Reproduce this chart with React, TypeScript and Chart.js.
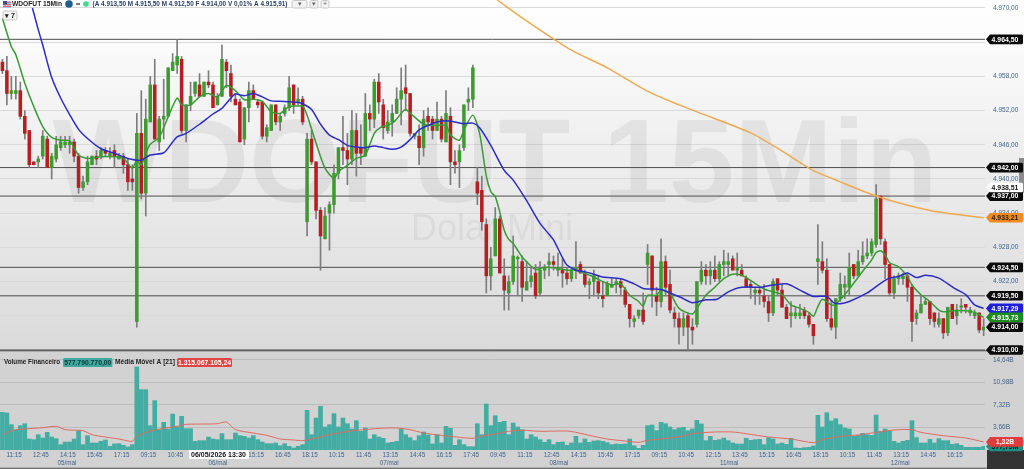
import React, { useEffect, useRef } from "react";
import { Chart, registerables } from "chart.js";

Chart.register(...registerables);

const opens = [
4960.5,4959,4955,4955,4955.5,4951,4948.5,4943,4943,4944,
4947,4942,4943.5,4945.5,4946,4946,4946.5,4944,4938.5,4939.5,
4942.5,4944,4944,4945,4944,4945,4943.5,4944,4942.5,4940,
4915,4948,4937.5,4950,4956.5,4946.5,4950.5,4951,4959,4960,
4961,4948.5,4953,4955,4956.5,4954.5,4957,4956.5,4953,4954.5,
4960.5,4958.5,4954,4953.5,4947,4952.5,4955.5,4953.5,4953.5,4947.5,
4948.5,4953,4950,4951.5,4952.5,4956.5,4953.5,4954,4932.5,4947,
4943,4934.5,4929.5,4934,4935.5,4941,4945.5,4945,4943.5,4948.5,
4945.5,4944,4951.5,4950.5,4957,4953,4948.5,4950,4951.5,4954,
4956,4955,4947.5,4947.5,4945.5,4951,4950.5,4948.5,4950.5,4946.5,
4951,4943,4943,4945.5,4953.5,4954,4939.5,4938,4932,4923,
4926.5,4933,4923,4920,4922,4926,4925.5,4920.5,4922,4923.5,
4920,4924,4925,4925.5,4924,4924,4923.5,4922.5,4924,4925,
4923.5,4921.5,4922,4922,4919.5,4919.5,4921,4921.5,4922,4920.5,
4918,4915,4916,4917,4925,4926.5,4919.5,4918.5,4925.5,4921.5,
4916.5,4915.5,4914,4916,4914,4914.5,4922,4924,4923,4924,
4922.5,4925,4925,4926,4924,4924,4922.5,4921.5,4920,4920.5,
4919.5,4918.5,4916.5,4922.5,4920.5,4917.5,4916,4916,4916,4917,
4916,4914.5,4925.5,4925.5,4924,4915.5,4914,4919,4921,4921,
4925,4923,4925.5,4926.5,4927,4928.5,4937,4929,4925,4920,
4922.5,4922.5,4923,4921,4915.5,4916.5,4918,4918.5,4916.5,4914.5,
4915.5,4913,4918,4916,4917.5,4918,4916.5,4916,4916.5,4913.5];

const highs = [
4961,4961.5,4958,4958,4957,4952,4948.5,4943,4944,4948.5,
4947.5,4944.5,4947.5,4947.5,4947.5,4947.5,4947,4944.5,4940.5,4944,
4944,4945,4945.5,4945.5,4945.5,4946,4944.5,4944.5,4943.5,4942.5,
4951.5,4955.5,4954,4958,4961,4951,4957.5,4959.5,4962,4964.5,
4961.5,4953,4957,4957,4958.5,4957,4959,4957,4955,4963.5,
4961,4960,4955,4954,4952.5,4957,4956.5,4954,4953.5,4949.5,
4953,4953,4951.5,4953,4958,4956.5,4956,4954.5,4948,4948.5,
4943,4935,4935,4936,4942.5,4945.5,4951,4948,4952,4951.5,
4949.5,4955,4953,4957.5,4958.5,4954,4952,4953,4956,4959.5,
4960,4955,4948,4949.5,4952,4952.5,4951,4953.5,4951,4955.5,
4952.5,4945,4946,4953,4956,4960,4942,4940.5,4933,4928,
4935,4933.5,4926,4923,4930,4926.5,4926.5,4925.5,4924.5,4925,
4925.5,4925,4927,4926.5,4927,4926,4924.5,4924.5,4929,4925.5,
4924,4922.5,4924,4923,4922,4922,4922.5,4922.5,4922.5,4921,
4918,4916,4917,4920,4928.5,4926.5,4921,4929.5,4926.5,4924,
4917.5,4916.5,4916.5,4916.5,4915.5,4922,4925.5,4925,4925.5,4926.5,
4925.5,4927.5,4927,4926.5,4927,4925,4923,4922,4921,4921,
4921.5,4919.5,4922.5,4922.5,4921.5,4918,4918.5,4917.5,4918,4917.5,
4916.5,4914.5,4932,4929,4926,4918.5,4919,4923.5,4923,4927,
4925,4927.5,4929,4929.5,4929.5,4939,4937,4929.5,4925,4923,
4923.5,4923.5,4923.5,4921.5,4917,4919.5,4919,4918.5,4916.5,4916.5,
4915.5,4917.5,4918,4918,4919,4918,4917.5,4917,4916.5,4915.5];

const lows = [
4958.5,4953,4954,4954,4950.5,4947,4942,4942.5,4942,4943.5,
4942,4940,4943,4945,4945.5,4944.5,4943,4937.5,4938,4939,
4942.5,4942.5,4943.5,4944,4943.5,4942,4943.5,4941,4938,4938,
4914,4936.5,4933.5,4950,4947,4945,4947,4951,4959,4958.5,
4948,4946.5,4952,4954.5,4954.5,4954.5,4956,4952.5,4953,4954.5,
4956,4953.5,4953,4946.5,4946,4950,4954,4952.5,4947,4946.5,
4948.5,4949.5,4948.5,4951,4952,4951.5,4953,4949.5,4930,4942.5,
4933,4924,4929.5,4927.5,4934,4940,4942.5,4939,4942.5,4940.5,
4942.5,4944,4948.5,4949,4951.5,4947,4948,4947.5,4951.5,4949.5,
4952,4947.5,4947,4942.5,4944,4948.5,4947,4948.5,4946.5,4946.5,
4939,4941,4938.5,4945,4952,4952.5,4935.5,4931,4920,4920.5,
4926.5,4923.5,4917,4917,4921.5,4919.5,4918.5,4920.5,4921,4919,
4919.5,4922.5,4923,4924,4923,4921,4921.5,4922,4922.5,4923.5,
4921,4919,4919.5,4919,4917.5,4919.5,4921,4920,4919.5,4917.5,
4914,4914,4915.5,4914.5,4921.5,4917.5,4916,4917.5,4919.5,4916.5,
4914,4911,4912.5,4910,4911,4914,4921.5,4921.5,4921.5,4922,
4922,4923,4923,4924,4923,4923,4921,4919,4918,4918,
4917.5,4915,4916,4919.5,4917.5,4915.5,4914,4915.5,4915.5,4915.5,
4914,4911,4921.5,4923.5,4915,4913.5,4912,4918.5,4919,4919.5,
4922.5,4923,4925,4926,4926.5,4928,4928.5,4922.5,4919.5,4919,
4921.5,4921.5,4918.5,4911.5,4914.5,4916.5,4918,4914.5,4914,4914,
4912,4912.5,4915.5,4914.5,4916.5,4916.5,4916,4915.5,4913,4912.5];

const closes = [
4959,4955,4955.5,4955.5,4951,4948,4942.5,4942.5,4943.5,4947.5,
4942,4944,4946,4946.5,4946.5,4946.5,4944,4938.5,4939.5,4943,
4944,4943.5,4945,4944.5,4944.5,4944,4944,4942.5,4939.5,4939.5,
4948,4937.5,4950.5,4956.5,4947,4950.5,4951,4959.5,4960.5,4961.5,
4948.5,4953,4954.5,4957,4954.5,4957,4956.5,4952.5,4954.5,4961,
4959,4954.5,4953,4946.5,4952.5,4955.5,4954,4953,4947.5,4949,
4953,4950,4951,4952.5,4956,4953,4954,4950,4947,4943,
4934.5,4930,4933.5,4935.5,4941,4945.5,4945,4943.5,4948.5,4944.5,
4944.5,4951.5,4950.5,4957,4953.5,4949,4950,4951.5,4954,4955.5,
4955,4948,4948,4945.5,4950.5,4950,4948.5,4950.5,4947,4951.5,
4943,4942.5,4945,4953,4954,4959.5,4937.5,4932.5,4923,4926,
4933,4923.5,4920.5,4922,4926.5,4926,4921,4922,4923,4919.5,
4924,4924.5,4925.5,4925,4924.5,4923.5,4922.5,4924,4924.5,4923.5,
4921.5,4922,4923,4920,4919,4921.5,4921.5,4922,4921,4918,
4915.5,4915.5,4917,4915,4927,4920.5,4918.5,4925.5,4921,4917,
4915.5,4914,4915.5,4914,4913.5,4922,4924,4923,4924,4922.5,
4925,4925.5,4925.5,4924,4924.5,4923,4921,4921,4920.5,4920,
4918.5,4916.5,4922,4920.5,4917.5,4915.5,4916.5,4916.5,4916.5,4916,
4914.5,4912.5,4926,4924,4915.5,4914,4919,4921.5,4921.5,4924.5,
4923,4925.5,4926.5,4927,4929,4936.5,4929.5,4925,4920,4922.5,
4923,4923,4921,4915,4916.5,4918,4918.5,4915.5,4915,4915.5,
4913,4917.5,4915.5,4917,4917.5,4917.5,4917,4916.5,4913.5,4914];

const volumes = [
6.12,6.02,4.12,3.2,3.96,4.28,1.79,1.68,2.49,1.95,2.87,2.11,1.84,0.87,1.3,1.3,1.79,3.14,0.87,2.33,
1.14,1.14,1.41,1.63,0.6,0.98,1.03,0.76,0.49,0.87,
13.5,9.81,9.81,3.96,8.02,3.31,4.5,3.41,5.85,3.74,5.47,3.47,3.47,1.41,1.52,1.52,2.11,1.79,1.68,2.66,
1.68,1.68,2.76,2.33,2.22,1.95,2.33,1.68,1.3,1.03,1.03,1.14,0.7,1.03,0.6,0.33,0.6,0.87,
6.45,2.49,5.2,7.1,3.74,4.12,5.91,3.74,
5.2,4.28,3.41,4.77,3.04,3.58,1.79,2.49,2.11,1.9,1.14,1.25,1.41,3.41,2.49,2.01,1.52,2.33,2.93,2.44,
0.98,2.49,1.14,3.85,3.52,0.76,1.68,0.87,0.54,0.54,
4.28,2.49,7.48,3.96,5.58,4.5,4.66,2.49,4.39,3.74,3.31,1.79,2.49,2.11,1.68,1.25,1.68,0.87,1.25,1.3,
0.76,1.14,2.22,1.14,1.79,1.25,1.46,1.52,1.41,1.19,0.87,0.98,0.92,0.98,1.79,0.7,0.27,0.76,
3.96,4.07,3.14,4.5,4.28,3.74,3.31,3.58,
3.69,3.14,3.41,4.82,4.23,1.52,2.22,1.57,1.68,1.95,1.52,1.14,0.98,0.98,1.9,1.57,1.68,1.73,0.87,2.01,
1.79,0.98,1.14,0.92,1.9,0.33,0.27,0.38,0.43,0.65,
5.64,3.74,6.07,4.72,5.09,4.12,3.58,3.41,2.22,2.38,2.71,2.49,2.38,5.69,3.04,3.41,3.04,1.41,1.14,1.41,
1.57,4.77,2.01,1.14,1.14,1.73,1.14,1.84,1.52,1.52,0.92,1.03,0.76,0.43,0.43,0.43,0.43,0.58];

const greenBars = [0,2,3,5,7,9,11,13,15,17,19,22,25,27,29,30,31,32,33,35,37,39,40,42,44,46,48,50,52,54,56,58,60,62,64,66,67,68,70,72,74,75,77,79,81,83,84.5,86,87.5,89,90,91.5,94,96,99,100,102,103,105,106.5,108,109,110,111,112,113,114,115,116,118,119,121,124,126,128,130,132,134,136,138,140,142,143,144,146,147,149,151,154,155,157,159,161,163,165,167,170,172,174,176,178,180,181,182,183,185,186,188,190,192,194,195,196,197,198,200,202,203,205,207,209,210,212,215,217,219];
const greenValues = [4968.2,4963.2,4961.8,4956.8,4952.7,4949.2,4947.3,4946.8,4946.7,4944.2,4943.6,4943.9,4943.9,4943.6,4941.9,4943.3,4942.5,4944.5,4946.1,4947.3,4950.9,4954.2,4953,4953,4954.4,4955,4954.4,4956.4,4955.5,4953.9,4954,4953.6,4951.8,4951.5,4952.7,4952.8,4952.8,4951.2,4946.3,4941.9,4940.1,4941.3,4942.4,4943.6,4944.2,4948,4949.1,4949.4,4950.1,4951.5,4952.2,4951.2,4949.6,4949.4,4949.4,4947.7,4946.8,4948.6,4951.2,4948,4940.5,4937.8,4936.9,4934.2,4931,4929.4,4928.7,4927.5,4926.3,4924.7,4924.1,4924.5,4924.3,4924,4924,4923.4,4922.8,4922,4921.4,4921.6,4919.6,4918.5,4917.7,4919.6,4919.6,4920.5,4919.9,4917.3,4916.3,4917.3,4919.6,4921,4922.5,4923.3,4923.1,4922.2,4920.7,4920.2,4919.7,4917.9,4917.3,4916.6,4915.9,4917.6,4918.9,4917.9,4918.1,4919.7,4921.7,4923.8,4925.8,4927.1,4927.4,4926.7,4925.3,4924.6,4922.9,4921.4,4919.7,4918.5,4917,4916.7,4916.9,4916.9,4916.6,4915.73];

const blueBars = [6.7,8,9,11,13,15,17,19,22,25,28,31,33,36,38,39,41,44,47,49,51,52,54,56,58,60,63,66,67,69,71,73,75,77,79,81,83,85,87,89,91,93,95,97,99,101,103,105,106.5,109,112,114,117,120,122,123,125,126,128,130,132,134,138,141,143,147,149,151.5,154,157,159.5,162,165,169,172,175,178,181,184,185.5,187,189,193,196,198,200,202,204,206,209,212.5,215,217,219];
const blueValues = [4970,4966.2,4963.5,4957.8,4954.2,4951.3,4948.7,4947.1,4945.3,4944.5,4943.6,4943.3,4944.2,4944.6,4946.5,4947.4,4948,4949.6,4951.4,4952.4,4954.2,4954.9,4954.6,4955,4954.4,4953.7,4953.6,4953.4,4953.2,4952.2,4949.6,4947.7,4946.9,4945.9,4945.6,4945.5,4945.8,4945.5,4945.2,4945.6,4946.9,4948.6,4949.4,4950,4950.2,4950,4949.7,4949.8,4949,4945.9,4941.5,4939.8,4936.2,4932.2,4930.3,4929.3,4926.2,4924.9,4924,4923.7,4923.3,4922.8,4922.5,4921.6,4920.8,4920.6,4920,4919.2,4918.3,4918.8,4918.9,4920.2,4921,4921,4921.4,4921.6,4920.5,4919.4,4919.4,4918.3,4918.1,4918.5,4920,4921.7,4922.6,4922.9,4923.5,4922.7,4923.1,4922.6,4920.8,4919.7,4917.9,4917.29];

const orangeBars = [110.4,118,127,135,143.7,151,155.6,167,173.6,180.7,187,195,202,209,219];
const orangeValues = [4971.4,4967.2,4962.6,4959.5,4955.5,4953,4951.6,4948.1,4945.1,4941.6,4939.5,4937,4935.4,4934.2,4933.21];

const volMaBars = [0,2,3,6,9,12,14,18,20,23,26,29,30,32,35,39,41,46,48,50,52,56,59,62,65,67,70,74,75,78,81,84,88,91,94,98,101.4,105,106.5,110,113,116,120,126,128,132,135,139,142,144,147,151,154,159,163,166,171,176,181,183,187,191,194,199,203,205,210,215,219];
const volMaValues = [2.49,3.14,3.31,3.47,3.63,3.85,3.31,3.14,2.49,2.11,1.79,1.41,2.22,2.87,3.41,3.85,4.17,4.23,4.28,4.55,3.31,2.76,2.38,1.79,1.63,1.52,1.95,2.66,2.76,3.14,3.31,3.52,3.58,3.31,2.76,2.38,2.11,1.9,2.22,2.6,3.04,3.2,3.04,3.09,2.87,2.22,1.79,1.46,1.25,1.57,1.79,2.15,2.66,2.93,2.93,2.66,2.11,1.79,1.19,1.68,2.22,2.44,2.76,3.25,3.31,2.87,2.33,1.95,1.32];

const levels = [4964.5, 4942, 4937, 4924.5, 4919.5, 4910];
const priceTicks = [4970, 4964, 4958, 4952, 4946, 4940, 4934, 4928, 4922, 4916, 4910];
const volumeTicks = [14.64, 10.98, 7.32, 3.66];
const timeLabels = ["11:15","12:45","14:15","15:45","17:15","09:15","10:45","12:15","13:45","15:15","16:45","18:15","10:15","11:45","13:15","14:45","16:15","17:45","09:45","11:15","12:45","14:15","15:45","17:15","09:15","10:45","12:15","13:45","15:15","16:45","18:15","10:15","11:45","13:15","14:45","16:15"];
const timeBars = [2.6,8.6,14.6,20.6,26.6,32.6,38.6,44.6,50.6,56.6,62.6,68.6,74.6,80.6,86.6,92.6,98.6,104.6,110.6,116.6,122.6,128.6,134.6,140.6,146.6,152.6,158.6,164.6,170.6,176.6,182.6,188.6,194.6,200.6,206.6,212.6];
const dayLabels = ["05/mai","06/mai","07/mai","08/mai","11/mai","12/mai"];
const dayBars = [14.4,48.1,86.3,124.2,162.2,200.4];

const title = "WDOFUT 15Min";
const ohlcText = "(A 4.913,50 M 4.915,50 M 4.912,50 F 4.914,00 V 0,01% A 4.915,91)";
const volumeLegend = ["Volume Financeiro", "577.790.770,00", "Média Móvel A [21]", "1.315.067.105,24"];
const crosshairText = "06/05/2026 13:30";

const X_MIN = -0.536;
const X_MAX = 219.3;
const UI = '"Liberation Sans", sans-serif';

const fmtPrice = (v: number) => {
  const s = v.toFixed(2).replace(".", ",");
  return s[0] + "." + s.slice(1);
};
const pairs = (xs: number[], ys: number[]) => xs.map((x, i) => ({ x, y: ys[i] }));

function tag(ctx: CanvasRenderingContext2D, y: number, text: string, bg: string, fg: string) {
  const l = 986, r = 1023, h = 4.8;
  ctx.fillStyle = bg;
  ctx.beginPath();
  ctx.moveTo(l, y);
  ctx.lineTo(l + 4, y - h);
  ctx.lineTo(r - 1, y - h);
  ctx.lineTo(r, y - h + 1);
  ctx.lineTo(r, y + h - 1);
  ctx.lineTo(r - 1, y + h);
  ctx.lineTo(l + 4, y + h);
  ctx.closePath();
  ctx.fill();
  ctx.fillStyle = fg;
  ctx.font = `bold 6.9px ${UI}`;
  ctx.textAlign = "center";
  ctx.textBaseline = "middle";
  ctx.fillText(text, 1005, y + 0.3);
}

function chip(ctx: CanvasRenderingContext2D, x: number, w: number, y: number, text: string, bg: string, fg: string) {
  ctx.fillStyle = bg;
  ctx.beginPath();
  ctx.roundRect(x, y - 4.5, w, 9, 1.5);
  ctx.fill();
  ctx.fillStyle = fg;
  ctx.textAlign = "center";
  ctx.fillText(text, x + w / 2, y + 0.3, w - 2);
}

const paintPlugin = {
  id: "paint",
  beforeDraw(chart: any) {
    const c = chart.ctx;
    const g = c.createLinearGradient(0, 0, 0, 351);
    g.addColorStop(0, "#ffffff");
    g.addColorStop(0.12, "#fbfbfb");
    g.addColorStop(0.5, "#ececec");
    g.addColorStop(1, "#dadada");
    c.fillStyle = g;
    c.fillRect(0, 0, 1024, 351);
    c.fillStyle = "#d2d2d2";
    c.fillRect(0, 351, 1024, 118);
    c.fillStyle = "#737373";
    c.fillRect(0, 350, 1024, 1.4);
    c.fillRect(0, 467.6, 1024, 1.4);
    c.fillStyle = "#333333";
    c.fillRect(987, 450, 37, 19);
  },
  beforeDatasetsDraw(chart: any) {
    const c = chart.ctx;
    c.save();
    c.textAlign = "center";
    c.textBaseline = "alphabetic";
    c.fillStyle = "rgba(0,0,0,0.06)";
    c.font = 'bold 118px "Liberation Sans"';
    c.fillText(title, 495, 202);
    c.font = '36px "Liberation Sans"';
    c.fillStyle = "rgba(0,0,0,0.05)";
    c.fillText("Dolar Mini", 492, 240);
    c.restore();
  },
  afterDraw(chart: any) {
    const c = chart.ctx;
    const y = chart.scales.y;
    const yV = chart.scales.yV;
    const x = chart.scales.x;
    c.save();
    c.textBaseline = "middle";

    // day labels under the time axis
    c.font = `6.3px ${UI}`;
    c.fillStyle = "#3f6390";
    c.textAlign = "center";
    dayLabels.forEach((d, i) => c.fillText(d, x.getPixelForValue(dayBars[i]), 463));

    // crosshair date
    c.fillStyle = "#ffffff";
    c.fillRect(189, 450, 60, 9);
    c.fillStyle = "#111";
    c.font = `bold 7px ${UI}`;
    c.fillText(crosshairText, 218.5, 454.8, 57);

    // right scroll handle
    c.fillStyle = "#8c8c8c";
    c.fillRect(1019, 158, 5, 34);

    // price tags
    levels.forEach((l) => tag(c, y.getPixelForValue(l), fmtPrice(l), "#0b0b0b", "#fff"));
    tag(c, y.getPixelForValue(4938.51), fmtPrice(4938.51), "#ffffff", "#111");
    tag(c, y.getPixelForValue(4933.21), fmtPrice(4933.21), "#f28a1c", "#222");
    tag(c, y.getPixelForValue(4917.29), fmtPrice(4917.29), "#1f1fd8", "#fff");
    tag(c, y.getPixelForValue(4915.73), fmtPrice(4915.73), "#1c8c1c", "#fff");
    tag(c, y.getPixelForValue(4914), fmtPrice(4914), "#0b0b0b", "#fff");
    tag(c, yV.getPixelForValue(0.58), "577,79M", "#1e8f87", "#111");
    tag(c, yV.getPixelForValue(1.32), "1,32B", "#e23b3b", "#fff");

    // header
    c.textAlign = "left";
    c.fillStyle = "#b9c3dd";
    c.fillRect(3, 1, 8, 7);
    c.fillStyle = "#d9646a";
    for (let k = 0; k < 3; k++) c.fillRect(3, 2 + k * 2, 8, 1);
    c.fillStyle = "#3b4f91";
    c.fillRect(3, 1, 4, 3.5);
    c.fillStyle = "#222";
    c.font = `bold 7.2px ${UI}`;
    c.fillText(title, 12, 4.3, 50);
    c.fillStyle = "#1f5f92";
    c.beginPath();
    c.arc(69, 4, 3.8, 0, 7);
    c.fill();
    c.fillStyle = "#333";
    c.fillRect(76, 3.4, 4, 1.3);
    c.fillStyle = "#3ddc84";
    c.beginPath();
    c.arc(86, 4, 2.8, 0, 7);
    c.fill();
    c.fillStyle = "#1e3a5c";
    c.font = `bold 7.2px ${UI}`;
    c.fillText(ohlcText, 92.5, 4.3, 195);

    // header buttons
    c.strokeStyle = "#c8c8c8";
    c.fillStyle = "#f3f3f3";
    [[292, 15], [310, 8], [321, 8]].forEach(([bx, bw]) => {
      c.beginPath();
      c.roundRect(bx, 0.5, bw, 7.5, 1.5);
      c.fill();
      c.stroke();
    });
    c.fillStyle = "#666";
    c.font = `7px ${UI}`;
    c.textAlign = "center";
    c.fillText("+", 325, 4.2);
    c.fillText("▾", 314, 4.2);
    c.fillText("▾", 299.5, 4.2);

    // indicator filter chip
    c.fillStyle = "#f3f3f3";
    c.beginPath();
    c.roundRect(3, 11, 14, 9, 1.5);
    c.fill();
    c.stroke();
    c.fillStyle = "#222";
    c.font = `bold 7px ${UI}`;
    c.fillText("▾ 7", 10, 15.8);

    // volume legend
    c.textAlign = "left";
    c.fillStyle = "#222";
    c.font = `bold 6.8px ${UI}`;
    c.fillText(volumeLegend[0], 4, 362.6, 56);
    chip(c, 63, 49.5, 362.5, volumeLegend[1], "#3fa89f", "#0d3b38");
    c.textAlign = "left";
    c.fillStyle = "#222";
    c.fillText(volumeLegend[2], 115, 362.6, 60);
    chip(c, 177, 55, 362.5, volumeLegend[3], "#e04545", "#fff");
    c.restore();
  },
};

export default function App() {
  const ref = useRef<HTMLCanvasElement>(null);
  useEffect(() => {
    const idx = opens.map((_, i) => i);
    const upColor = "#3f9a32";
    const downColor = "#b31f22";
    const candleColors = idx.map((i) => (closes[i] >= opens[i] ? upColor : downColor));
    const level = (v: number) => ({
      type: "line" as const,
      data: [{ x: X_MIN, y: v }, { x: X_MAX, y: v }],
      yAxisID: "y",
      borderColor: "#4f4f4f",
      borderWidth: 1,
      pointRadius: 0,
      order: 9,
    });
    const ma = (data: any[], color: string, yAxisID: string, width: number, order: number) => ({
      type: "line" as const,
      data,
      yAxisID,
      borderColor: color,
      borderWidth: width,
      pointRadius: 0,
      tension: 0.25,
      order,
    });
    const noPad = (s: any, w: number) => {
      s.width = w;
      s.paddingTop = 0;
      s.paddingBottom = 0;
      s.paddingLeft = 0;
      s.paddingRight = 0;
    };
    const chart = new Chart(ref.current as HTMLCanvasElement, {
      type: "bar",
      data: {
        datasets: [
          ...levels.map(level),
          {
            data: idx.map((i) => ({ x: i, y: [lows[i], highs[i]] })),
            yAxisID: "y",
            backgroundColor: "#7d7d7d",
            barThickness: 1,
            grouped: false,
            order: 8,
          },
          {
            data: idx.map((i) => ({ x: i, y: [opens[i], closes[i]] })),
            yAxisID: "y",
            backgroundColor: candleColors,
            barThickness: 2.9,
            minBarLength: 1.5,
            grouped: false,
            order: 7,
          },
          ma(pairs(orangeBars, orangeValues), "#f0a94f", "y", 1.5, 3),
          ma(pairs(blueBars, blueValues), "#2c2cc8", "y", 1.5, 1),
          ma(pairs(greenBars, greenValues), "#3a9a36", "y", 1.5, 2),
          {
            data: idx.map((i) => ({ x: i, y: volumes[i] })),
            yAxisID: "yV",
            backgroundColor: "#43ada4",
            barThickness: 4,
            grouped: false,
            order: 7,
          },
          ma(pairs(volMaBars, volMaValues), "#e06a62", "yV", 1, 2),
        ] as any,
      },
      options: {
        responsive: false,
        animation: false,
        layout: { padding: 0, autoPadding: false },
        plugins: { legend: { display: false }, tooltip: { enabled: false } },
        events: [],
        scales: {
          x: {
            type: "linear",
            min: X_MIN,
            max: X_MAX,
            offset: false,
            grid: { display: false, drawTicks: false },
            border: { display: false },
            afterBuildTicks: (s: any) => {
              s.ticks = timeBars.map((value) => ({ value }));
            },
            afterFit: (s: any) => {
              s.height = 19;
              s.paddingLeft = 0;
              s.paddingRight = 0;
            },
            ticks: {
              autoSkip: false,
              maxRotation: 0,
              padding: 1,
              font: { size: 6.3, family: UI },
              color: "#3f6390",
              callback: (_v: any, i: number) => timeLabels[i],
            },
          },
          y: {
            type: "linear",
            position: "right",
            stack: "panes",
            stackWeight: 351,
            min: 4909.82,
            max: 4971.4,
            border: { display: false },
            grid: { color: "#dadada", drawTicks: false },
            afterBuildTicks: (s: any) => {
              s.ticks = priceTicks.map((value) => ({ value }));
            },
            afterFit: (s: any) => noPad(s, 39),
            ticks: {
              padding: 8,
              font: { size: 6.5, family: UI },
              color: "#3f6390",
              callback: (v: any) => fmtPrice(Number(v)),
            },
          },
          yV: {
            type: "linear",
            position: "right",
            stack: "panes",
            stackWeight: 99,
            min: 0,
            max: 16.1,
            border: { display: false },
            grid: { color: "#bcbcbc", drawTicks: false },
            afterBuildTicks: (s: any) => {
              s.ticks = volumeTicks.map((value) => ({ value }));
            },
            afterFit: (s: any) => noPad(s, 39),
            ticks: {
              padding: 8,
              font: { size: 6.5, family: UI },
              color: "#3f6390",
              callback: (v: any) => Number(v).toFixed(2).replace(".", ",") + "B",
            },
          },
        },
      } as any,
      plugins: [paintPlugin],
    });
    return () => chart.destroy();
  }, []);
  return (
    <div style={{ position: "fixed", left: 0, top: 0, width: 1024, height: 469, overflow: "hidden" }}>
      <canvas
        ref={ref}
        width={1024}
        height={469}
        style={{ display: "block", width: 1024, height: 469, filter: "blur(0.4px)" }}
      />
    </div>
  );
}
